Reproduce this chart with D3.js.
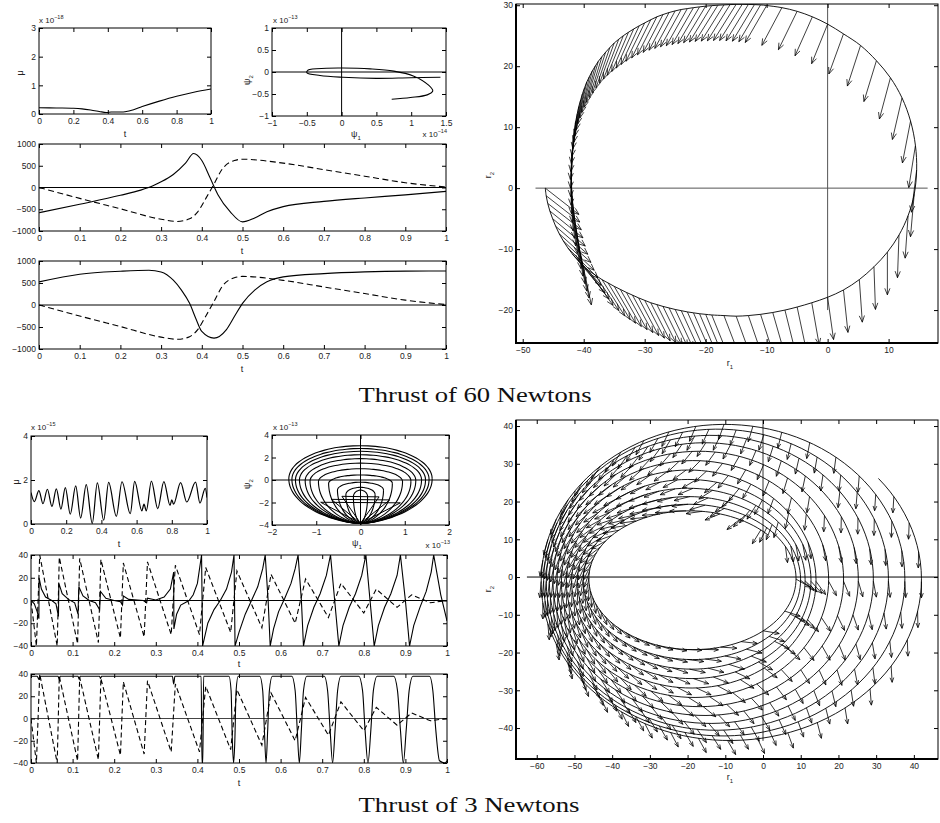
<!DOCTYPE html>
<html>
<head>
<meta charset="utf-8">
<script src="https://cdnjs.cloudflare.com/ajax/libs/d3/7.8.5/d3.min.js"></script>
<style>
  body { margin: 0; background: #fff; }
</style>
</head>
<body>
<script>
// ---------------- data: thrust of 60 Newtons ----------------
const tTicksFine = [0, 0.1, 0.2, 0.3, 0.4, 0.5, 0.6, 0.7, 0.8, 0.9, 1];
const tTicksCoarse = [0, 0.2, 0.4, 0.6, 0.8, 1];

const mu60Ticks = [0, 1, 2, 3];
const mu60 = [[0, 0.22], [0.1, 0.21], [0.2, 0.2], [0.25, 0.18], [0.3, 0.14], [0.35, 0.09], [0.39, 0.05],
  [0.42, 0.07], [0.47, 0.07], [0.5, 0.08], [0.55, 0.15], [0.6, 0.26], [0.7, 0.45], [0.8, 0.62], [0.9, 0.76], [1, 0.87]];

const psi60XTicks = [-1, -0.5, 0, 0.5, 1, 1.5];
const psi60YTicks = [-1, -0.5, 0, 0.5, 1];
const psi60 = [[1.42, -0.12], [0.99, -0.13], [0.5, -0.145], [0.02, -0.12], [-0.31, -0.08], [-0.5, -0.015],
  [-0.48, 0.045], [-0.22, 0.085], [0.02, 0.09], [0.41, 0.07], [0.75, 0.02], [1.03, -0.09], [1.25, -0.3],
  [1.31, -0.43], [1.23, -0.52], [0.99, -0.58], [0.72, -0.62]];

const mid60YTicks = [-1000, -500, 0, 500, 1000];
const solid60a = [[0, -580], [0.1, -385], [0.2, -180], [0.25, -60], [0.28, 40], [0.3, 130], [0.33, 300],
  [0.36, 560], [0.38, 780], [0.4, 620], [0.42, 230], [0.44, -170], [0.47, -560], [0.5, -790], [0.53, -700],
  [0.56, -560], [0.6, -440], [0.7, -320], [0.8, -240], [0.9, -170], [1, -90]];
const solid60b = [[0, 526], [0.1, 700], [0.2, 767], [0.27, 790], [0.3, 752], [0.33, 564], [0.35, 338],
  [0.37, 38], [0.385, -300], [0.4, -600], [0.43, -752], [0.46, -564], [0.48, -263], [0.5, 38], [0.53, 338],
  [0.56, 526], [0.6, 640], [0.7, 714], [0.8, 752], [0.9, 770], [1, 774]];
const dashed60 = [[0, 0], [0.1, -250], [0.2, -490], [0.3, -730], [0.34, -780], [0.37, -720], [0.39, -560],
  [0.41, -250], [0.43, 80], [0.45, 420], [0.48, 620], [0.5, 650], [0.6, 560], [0.7, 410], [0.8, 260],
  [0.9, 110], [1, 10]];

const r1Ticks60 = [-50, -40, -30, -20, -10, 0, 10];
const r2Ticks60 = [-20, -10, 0, 10, 20, 30];
// trajectory samples [r1, r2, thrust direction in degrees]
const orbit60 = [
  [-46.3, 0.0, -38], [-46.15, -1.25, -38], [-45.9, -2.5, -38], [-45.55, -3.75, -39], [-45.1, -5.0, -40],
  [-44.6, -6.25, -41], [-44.0, -7.5, -42], [-43.35, -8.65, -43.5], [-42.6, -9.8, -45], [-41.85, -10.8, -47.5],
  [-41.0, -11.8, -50], [-40.1, -12.65, -52.5], [-39.2, -13.5, -55], [-38.1, -14.25, -56.5],
  [-37.0, -15.0, -58], [-36.0, -15.55, -59], [-35.0, -16.1, -60], [-34.0, -16.6, -60.5], [-33.0, -17.1, -61],
  [-32.0, -17.55, -61.5], [-31.0, -18.0, -62], [-30.0, -18.4, -62.5], [-29.0, -18.8, -63], [-28.0, -19.1, -63.5],
  [-27.0, -19.4, -64], [-26.0, -19.65, -64.5], [-25.0, -19.9, -65], [-24.0, -20.1, -65.5], [-23.0, -20.3, -66],
  [-22.0, -20.45, -66.5], [-21.0, -20.6, -67], [-20.0, -20.7, -67.5], [-19.0, -20.8, -68], [-17.0, -20.9, -69],
  [-15.0, -21.0, -70], [-13.0, -20.9, -71], [-11.0, -20.7, -72], [-9.0, -20.4, -74], [-7.0, -20.0, -76],
  [-5.0, -19.5, -78], [-2.6, -18.8, -80], [0.0, -17.9, -82], [2.6, -16.7, -84], [5.2, -15.0, -86],
  [7.6, -12.9, -88], [9.8, -10.5, -90], [11.7, -7.7, -92], [13.2, -4.5, -94], [14.2, -1.0, -95],
  [14.6, 3.0, -97], [14.4, 7.0, -99], [13.6, 11.0, -101], [12.2, 14.8, -103], [10.3, 18.1, -105],
  [8.0, 20.9, -107], [5.4, 23.4, -108], [2.6, 25.3, -110], [0.0, 26.9, -112], [-2.5, 28.1, -114],
  [-5.0, 29.0, -116], [-7.5, 29.6, -118], [-10.0, 29.95, -120],
  [-11.0, 30.05, -120.5], [-12.0, 30.1, -121], [-13.0, 30.13, -121.5], [-14.0, 30.15, -122], [-15.0, 30.15, -122],
  [-16.0, 30.1, -122], [-17.0, 30.05, -122], [-18.0, 30.0, -122], [-19.0, 29.93, -121.5], [-20.0, 29.85, -121],
  [-21.0, 29.73, -120.5], [-22.0, 29.6, -120], [-23.0, 29.45, -119.5], [-24.0, 29.3, -119], [-25.0, 29.07, -118.5],
  [-26.0, 28.8, -118], [-27.0, 28.47, -117.5], [-28.0, 28.1, -117], [-29.0, 27.62, -116.5], [-30.0, 27.1, -116],
  [-30.9, 26.62, -115], [-31.8, 26.1, -114], [-32.65, 25.57, -113], [-33.5, 25.0, -112], [-34.25, 24.42, -111],
  [-35.0, 23.8, -110], [-35.7, 23.07, -109], [-36.4, 22.3, -108], [-37.0, 21.57, -107], [-37.6, 20.8, -106],
  [-38.1, 20.02, -105], [-38.6, 19.2, -104], [-39.05, 18.32, -103], [-39.5, 17.4, -102], [-39.85, 16.47, -101],
  [-40.2, 15.5, -100], [-40.5, 14.47, -99], [-40.8, 13.4, -98], [-41.05, 12.22, -97], [-41.3, 11.0, -96],
  [-41.5, 9.7, -95], [-41.7, 8.4, -94], [-41.8, 7.0, -93], [-41.9, 5.6, -92], [-41.95, 4.2, -91],
  [-42.0, 2.8, -90], [-42.0, 1.4, -89], [-42.0, 0.0, -88], [-41.9, -1.25, -87], [-41.8, -2.5, -86],
  [-41.65, -3.75, -85], [-41.5, -5.0, -84], [-41.3, -6.25, -83], [-41.1, -7.5, -82], [-40.9, -8.75, -81],
  [-40.7, -10.0, -80], [-40.45, -11.15, -79], [-40.2, -12.3, -78]
];

// ---------------- data: thrust of 3 Newtons ----------------
const mu3Ticks = [0, 2, 4];
const mu3 = [[0, 1.43], [0.019, 1.02], [0.045, 1.52], [0.068, 0.92], [0.093, 1.58], [0.119, 0.8],
  [0.144, 1.6], [0.17, 0.68], [0.195, 1.65], [0.223, 0.45], [0.254, 1.73], [0.282, 0.27], [0.314, 1.79],
  [0.348, 0.02], [0.377, 1.87], [0.413, 0.17], [0.441, 1.89], [0.485, 0.35], [0.517, 1.92], [0.564, 0.47],
  [0.589, 1.94], [0.63, 0.6], [0.642, 0.9], [0.655, 0.6], [0.684, 1.95], [0.72, 0.7], [0.755, 1.93],
  [0.79, 0.85], [0.8, 1.1], [0.81, 0.9], [0.85, 1.88], [0.885, 1.0], [0.935, 1.9], [0.96, 0.95],
  [0.99, 1.62], [1, 1.2]];

const psi3XTicks = [-2, -1, 0, 1, 2];
const psi3YTicks = [-4, -2, 0, 2, 4];
const psi3Bottom = -3.85;
const psi3HalfWidth = [1.62, 1.55, 1.47, 1.38, 1.25, 1.14, 0.95, 0.72, 0.52, 0.33, 0.16];
const psi3Top = [3.05, 2.8, 2.55, 2.25, 1.9, 1.5, 1.0, 0.45, -0.2, -0.65, -0.9];
const psi3Widest = [0.1, 0.05, 0, 0, -0.05, -0.1, -0.15, -0.3, -0.9, -1.3, -1.5];
const psi3Wings = [[0.9, -1.98], [0.66, -1.72], [0.42, -1.45]];

const mid3YTicks = [-40, -20, 0, 20, 40];
const dashed3 = [[0, 0], [0.013, -40], [0.021, 40], [0.063, -40], [0.068, 38], [0.112, -38], [0.117, 37],
  [0.162, -37], [0.168, 36], [0.215, -33], [0.222, 33], [0.272, -32], [0.28, 34], [0.337, -30], [0.347, 31],
  [0.405, -30], [0.42, 29], [0.48, -28], [0.495, 26], [0.555, -24], [0.577, 23], [0.635, -20], [0.66, 19],
  [0.715, -15], [0.745, 15], [0.8, -11], [0.83, 10], [0.88, -6], [0.915, 5], [0.96, -2], [1, 0]];
const solid3a = [[0, 0], [0.008, -3], [0.015, -10], [0.019, -16], [0.0195, 20], [0.025, 10], [0.035, 3],
  [0.05, 0], [0.06, -3], [0.066, -14], [0.067, 15], [0.075, 6], [0.09, 1], [0.105, -2], [0.113, -12],
  [0.115, 12], [0.125, 4], [0.14, 0], [0.155, -2], [0.165, -8], [0.167, 8], [0.18, 2], [0.2, 0],
  [0.215, -1], [0.22, -4], [0.222, 4], [0.235, 1], [0.27, 0], [0.278, -2], [0.28, 2], [0.3, 0.5],
  [0.32, 3], [0.335, 10], [0.343, 25], [0.3435, -25], [0.35, -12], [0.36, -4], [0.38, 0], [0.39, 5],
  [0.4, 15], [0.41, 40], [0.4125, -40], [0.425, -20], [0.44, -8], [0.455, 0], [0.47, 10], [0.482, 25],
  [0.488, 40], [0.4905, -40], [0.5, -28], [0.515, -12], [0.53, 0], [0.545, 12], [0.557, 28], [0.563, 40],
  [0.57, 0], [0.575, -40], [0.583, -25], [0.595, -10], [0.61, 2], [0.625, 15], [0.635, 28], [0.642, 40],
  [0.65, 0], [0.655, -40], [0.665, -22], [0.68, -6], [0.695, 6], [0.71, 22], [0.72, 40], [0.73, 0],
  [0.74, -40], [0.75, -22], [0.765, -6], [0.78, 6], [0.795, 22], [0.805, 40], [0.815, 0], [0.825, -40],
  [0.835, -22], [0.85, -6], [0.865, 6], [0.88, 22], [0.888, 40], [0.9, 0], [0.91, -40], [0.92, -22],
  [0.935, -6], [0.95, 8], [0.962, 25], [0.968, 40], [0.985, 5], [1, -18]];
const solid3b = [[0, 38], [0.015, 38], [0.019, 35], [0.021, 38], [0.065, 38], [0.068, 35], [0.07, 38],
  [0.113, 38], [0.116, 35], [0.118, 38], [0.165, 38], [0.167, 36], [0.17, 38], [0.34, 38], [0.343, 31],
  [0.346, 38], [0.409, 38], [0.411, -40], [0.413, -40], [0.415, 38], [0.476, 38], [0.481, 25],
  [0.484, -20], [0.487, -40], [0.49, -20], [0.493, 25], [0.498, 38], [0.55, 38], [0.557, 25], [0.561, -10],
  [0.565, -40], [0.569, -10], [0.573, 25], [0.58, 38], [0.627, 38], [0.635, 25], [0.64, -10], [0.645, -40],
  [0.65, -10], [0.655, 25], [0.663, 38], [0.705, 38], [0.713, 25], [0.719, -10], [0.725, -40],
  [0.731, -10], [0.737, 25], [0.745, 38], [0.788, 38], [0.797, 25], [0.803, -10], [0.81, -40],
  [0.817, -10], [0.823, 25], [0.832, 38], [0.872, 38], [0.881, 25], [0.888, -10], [0.895, -40],
  [0.902, -10], [0.909, 25], [0.918, 38], [0.958, 38], [0.966, 25], [0.973, -10], [0.982, -38],
  [0.995, -40], [1, -38]];

const r1Ticks3 = [-60, -50, -40, -30, -20, -10, 0, 10, 20, 30, 40];
const r2Ticks3 = [-40, -30, -20, -10, 0, 10, 20, 30, 40];
// extremes of successive revolutions, first (outer) to last (inner)
const loopRight3 = [42.5, 38.1, 33.7, 29.7, 25.7, 21.8, 17.8, 14.2, 12.9, 11.3, 10.1, 8.9, 7.6];
const loopLeft3 = [-59.2, -58.6, -57.9, -57.2, -56.3, -55.3, -54.2, -53.0, -51.6, -50.2, -48.6, -47.1, -45.6];
const loopTop3 = [41.3, 40.3, 39.0, 37.3, 35.3, 33.0, 30.5, 28.0, 25.5, 23.2, 21.0, 19.0, 17.3];
const loopBottom3 = [-43.7, -42.6, -41.2, -39.5, -37.5, -35.2, -32.8, -30.3, -27.8, -25.3, -22.8, -20.2, -17.5];
// thrust direction (deg) seen at orbit positions 0,45,...,315 deg, for outer and inner revolutions
const thrustOuter3 = [-90, -95, -110, -125, -95, -65, -60, -85];
const thrustInner3 = [-30, -120, -180, -170, -100, -40, 0, -10];
const innerShare3 = [0, 0.05, 0.1, 0.18, 0.27, 0.37, 0.48, 0.6, 0.7, 0.8, 0.9, 1];

// ---------------- drawing ----------------
const W = 940, H = 823;
const SANS = "Liberation Sans, Arial, Helvetica, sans-serif";
const SERIF = "Liberation Serif, Times New Roman, serif";
const svg = d3.select("body").append("svg").attr("width", W).attr("height", H);
const fmt = d3.format("");
let clipCount = 0;

function panel(b, xd, yd, xt, yt, thick) {
  const x = d3.scaleLinear().domain(xd).range([b.x, b.x + b.w]);
  const y = d3.scaleLinear().domain(yd).range([b.y + b.h, b.y]);
  const id = "clip" + (clipCount++);
  svg.append("clipPath").attr("id", id).append("rect")
    .attr("x", b.x).attr("y", b.y).attr("width", b.w).attr("height", b.h);
  const g = svg.append("g").attr("clip-path", `url(#${id})`);
  const ax = svg.append("g");
  ax.append("g").attr("transform", `translate(0,${b.y + b.h})`)
    .call(d3.axisBottom(x).tickValues(xt).tickSize(-4).tickPadding(4).tickFormat(fmt));
  ax.append("g").attr("transform", `translate(0,${b.y})`)
    .call(d3.axisTop(x).tickValues(xt).tickSize(-4).tickFormat(""));
  ax.append("g").attr("transform", `translate(${b.x},0)`)
    .call(d3.axisLeft(y).tickValues(yt).tickSize(-4).tickPadding(3).tickFormat(fmt));
  ax.append("g").attr("transform", `translate(${b.x + b.w},0)`)
    .call(d3.axisRight(y).tickValues(yt).tickSize(-4).tickFormat(""));
  ax.selectAll(".domain").remove();
  ax.selectAll("g").attr("font-size", 8.5).attr("font-family", SANS);
  ax.selectAll("text").attr("fill", "#222");
  ax.selectAll("line").attr("stroke", "#000");
  ax.append("rect").attr("x", b.x).attr("y", b.y).attr("width", b.w).attr("height", b.h)
    .attr("fill", "none").attr("stroke", "#000").attr("stroke-width", 1);
  if (thick) {
    ax.append("path")
      .attr("d", `M${b.x},${b.y} V${b.y + b.h} H${b.x + b.w}`)
      .attr("fill", "none").attr("stroke", "#000").attr("stroke-width", 2);
  }
  return { x, y, g, b };
}

function label(txt, x, y, opt) {
  opt = opt || {};
  const t = svg.append("text").attr("x", x).attr("y", y)
    .attr("font-family", SANS).attr("font-size", opt.size || 9).attr("fill", "#222")
    .attr("text-anchor", opt.anchor || "middle");
  if (opt.rotate) t.attr("transform", `rotate(-90,${x},${y})`);
  t.append("tspan").text(txt);
  if (opt.sub) t.append("tspan").attr("font-size", 6).attr("dy", 2.5).text(opt.sub);
  return t;
}

function expLabel(x, y, exp, anchor) {
  const t = svg.append("text").attr("x", x).attr("y", y).attr("font-size", 8)
    .attr("font-family", SANS).attr("fill", "#222").attr("text-anchor", anchor || "start");
  t.append("tspan").text("x 10");
  t.append("tspan").attr("font-size", 5.5).attr("dy", -4).text(exp);
}

function curve(p, data, style) {
  const line = d3.line().x(d => p.x(d[0])).y(d => p.y(d[1])).curve(style.curve || d3.curveMonotoneX);
  p.g.append("path").attr("d", line(data)).attr("fill", "none")
    .attr("stroke", "#000").attr("stroke-width", style.width || 1.1)
    .attr("stroke-dasharray", style.dash || null);
}

function hLine(p, v, x0, x1, col) {
  p.g.append("line").attr("x1", p.x(x0)).attr("x2", p.x(x1)).attr("y1", p.y(v)).attr("y2", p.y(v))
    .attr("stroke", col || "#000").attr("stroke-width", 1);
}
function vLine(p, v, y0, y1, col) {
  p.g.append("line").attr("y1", p.y(y0)).attr("y2", p.y(y1)).attr("x1", p.x(v)).attr("x2", p.x(v))
    .attr("stroke", col || "#000").attr("stroke-width", 1);
}

function arrow(p, r1, r2, angDeg, len, head) {
  const a = angDeg * Math.PI / 180;
  const x0 = p.x(r1), y0 = p.y(r2);
  const x1 = p.x(r1 + len * Math.cos(a)), y1 = p.y(r2 + len * Math.sin(a));
  const sa = Math.atan2(y1 - y0, x1 - x0), w = 0.38;
  const hx1 = x1 - head * Math.cos(sa - w), hy1 = y1 - head * Math.sin(sa - w);
  const hx2 = x1 - head * Math.cos(sa + w), hy2 = y1 - head * Math.sin(sa + w);
  return `M${x0},${y0}L${x1},${y1}M${hx1},${hy1}L${x1},${y1}L${hx2},${hy2}`;
}

function title(txt, x, y, len) {
  svg.append("text").attr("x", x).attr("y", y).attr("text-anchor", "middle")
    .attr("font-family", SERIF).attr("font-size", 22).attr("fill", "#111")
    .attr("textLength", len).attr("lengthAdjust", "spacingAndGlyphs").text(txt);
}

// ======== Thrust of 60 Newtons ========
const pMu60 = panel({ x: 39, y: 28, w: 172, h: 86 }, [0, 1], [0, 3], tTicksCoarse, mu60Ticks);
curve(pMu60, mu60, { curve: d3.curveCatmullRom });
expLabel(39, 23, "\u221218");
label("\u03bc", 23, 73, { rotate: true });
label("t", 125, 137);

const pPsi60 = panel({ x: 272, y: 28, w: 174, h: 88 }, [-1, 1.5], [-1, 1], psi60XTicks, psi60YTicks);
hLine(pPsi60, 0, -1, 1.5);
vLine(pPsi60, 0, -1, 1);
curve(pPsi60, psi60, { curve: d3.curveCatmullRom });
expLabel(273, 23, "\u221213");
expLabel(447, 137, "\u221214", "end");
label("\u03c8", 250, 80, { rotate: true, sub: "2" });
label("\u03c8", 356, 137, { sub: "1" });

const pMid60a = panel({ x: 39, y: 144, w: 407, h: 87 }, [0, 1], [-1000, 1000], tTicksFine, mid60YTicks);
hLine(pMid60a, 0, 0, 1);
curve(pMid60a, solid60a, {});
curve(pMid60a, dashed60, { dash: "6,3.5" });
label("t", 242, 254);

const pMid60b = panel({ x: 39, y: 261, w: 407, h: 88 }, [0, 1], [-1000, 1000], tTicksFine, mid60YTicks);
hLine(pMid60b, 0, 0, 1);
curve(pMid60b, solid60b, {});
curve(pMid60b, dashed60, { dash: "6,3.5" });
label("t", 242, 372);

const pOrb60 = panel({ x: 516, y: 4, w: 422, h: 339 }, [-51.1, 18.1], [-25.4, 30.2], r1Ticks60, r2Ticks60, true);
hLine(pOrb60, 0, -47.9, 16.4, "#555");
vLine(pOrb60, 0, -20, 30.2, "#555");
curve(pOrb60, orbit60, { curve: d3.curveCatmullRom, width: 0.9 });
pOrb60.g.append("path")
  .attr("d", orbit60.map(d => arrow(pOrb60, d[0], d[1], d[2], 7, 7)).join(""))
  .attr("fill", "none").attr("stroke", "#000").attr("stroke-width", 0.75);
label("r", 491, 175, { rotate: true, sub: "2" });
label("r", 730, 366, { sub: "1" });

title("Thrust of 60 Newtons", 475, 402, 233);

// ======== Thrust of 3 Newtons ========
const pMu3 = panel({ x: 31, y: 436, w: 176, h: 88 }, [0, 1], [0, 4], tTicksCoarse, mu3Ticks);
curve(pMu3, mu3, { width: 1.2 });
expLabel(31, 430, "\u221215");
label("\u03bc", 19, 482, { rotate: true });
label("t", 119, 547);

const pPsi3 = panel({ x: 272, y: 435, w: 177, h: 90 }, [-2, 2], [-4, 4], psi3XTicks, psi3YTicks);
hLine(pPsi3, 0, -2, 2);
vLine(pPsi3, 0, -4, 4);
const eggLine = d3.line().x(d => pPsi3.x(d[0])).y(d => pPsi3.y(d[1])).curve(d3.curveCatmullRom);
psi3HalfWidth.forEach((w, i) => {
  const top = psi3Top[i], mid = psi3Widest[i], pts = [];
  for (let a = 0; a <= 360; a += 6) {
    const r = a * Math.PI / 180;
    const s = Math.sin(r), c = Math.cos(r);
    if (s >= 0) pts.push([w * c, mid + (top - mid) * s]);
    else pts.push([w * Math.sign(c) * Math.pow(1 - s * s, 0.6), mid + (mid - psi3Bottom) * s]);
  }
  pPsi3.g.append("path").attr("d", eggLine(pts)).attr("fill", "none")
    .attr("stroke", "#000").attr("stroke-width", 1.1);
});
psi3Wings.forEach(d => {
  const [w, yv] = d;
  pPsi3.g.append("path")
    .attr("d", `M${pPsi3.x(0)},${pPsi3.y(psi3Bottom)}L${pPsi3.x(-w)},${pPsi3.y(yv)}L${pPsi3.x(w)},${pPsi3.y(yv - 0.05)}Z`)
    .attr("fill", "none").attr("stroke", "#000").attr("stroke-width", 1);
});
expLabel(273, 430, "\u221213");
expLabel(450, 548, "\u221213", "end");
label("\u03c8", 250, 484, { rotate: true, sub: "2" });
label("\u03c8", 357, 546, { sub: "1" });

const pMid3a = panel({ x: 31, y: 555, w: 416, h: 91 }, [0, 1], [-40, 40], tTicksFine, mid3YTicks);
hLine(pMid3a, 0, 0, 1);
curve(pMid3a, solid3a, { curve: d3.curveLinear });
curve(pMid3a, dashed3, { dash: "5,3", curve: d3.curveLinear });
label("t", 239, 667);

const pMid3b = panel({ x: 31, y: 674, w: 416, h: 89 }, [0, 1], [-40, 40], tTicksFine, mid3YTicks);
hLine(pMid3b, 0, 0, 1, "#444");
curve(pMid3b, solid3b, { curve: d3.curveMonotoneX });
curve(pMid3b, dashed3, { dash: "5,3", curve: d3.curveLinear });
label("t", 239, 786);

const pOrb3 = panel({ x: 516, y: 420, w: 422, h: 339 }, [-65.5, 46.4], [-48.2, 41.6], r1Ticks3, r2Ticks3, true);
hLine(pOrb3, 0, -62.6, 46.4);
vLine(pOrb3, 0, -43.4, 41.6, "#333");

function loopAt(k, f) {
  const j = Math.min(k + 1, loopRight3.length - 1);
  const R = loopRight3[k] + (loopRight3[j] - loopRight3[k]) * f;
  const L = loopLeft3[k] + (loopLeft3[j] - loopLeft3[k]) * f;
  const T = loopTop3[k] + (loopTop3[j] - loopTop3[k]) * f;
  const B = loopBottom3[k] + (loopBottom3[j] - loopBottom3[k]) * f;
  return { cx: (R + L) / 2, a: (R - L) / 2, cy: (T + B) / 2, b: (T - B) / 2 };
}
const startAngle3 = 40;
const spiral = [];
for (let k = 0; k < loopRight3.length - 1; k++) {
  for (let d = 0; d < 360; d += 3) {
    const p = loopAt(k, d / 360), th = (startAngle3 - d) * Math.PI / 180;
    spiral.push([p.cx + p.a * Math.cos(th), p.cy + p.b * Math.sin(th)]);
  }
}
const pl = loopAt(loopRight3.length - 1, 0), thl = startAngle3 * Math.PI / 180;
spiral.push([pl.cx + pl.a * Math.cos(thl), pl.cy + pl.b * Math.sin(thl)]);
curve(pOrb3, spiral, { curve: d3.curveLinear, width: 0.9 });

function angleMix(a, b, f) {
  let d = b - a;
  while (d > 180) d -= 360;
  while (d < -180) d += 360;
  return a + d * f;
}
function tableAngle(tbl, phi) {
  const p = ((phi % 360) + 360) % 360, i = Math.floor(p / 45);
  return angleMix(tbl[i % 8], tbl[(i + 1) % 8], (p - i * 45) / 45);
}
const arrows3 = [];
const perLoop = 40;
for (let k = 0; k < loopRight3.length - 1; k++) {
  const p0 = loopAt(k, 0);
  const e = Math.min(0.8, Math.max(0, -p0.cx / p0.a));
  for (let i = 0; i < perLoop; i++) {
    const M = 2 * Math.PI * i / perLoop;
    let E = M;
    for (let n = 0; n < 8; n++) E -= (E - e * Math.sin(E) - M) / (1 - e * Math.cos(E));
    const thDeg = -E * 180 / Math.PI;
    const f = (((startAngle3 - thDeg) % 360) + 360) % 360 / 360;
    const p = loopAt(k, f), th = thDeg * Math.PI / 180;
    const r1 = p.cx + p.a * Math.cos(th), r2 = p.cy + p.b * Math.sin(th);
    const ang = angleMix(tableAngle(thrustOuter3, thDeg), tableAngle(thrustInner3, thDeg), innerShare3[k]);
    arrows3.push([r1, r2, ang]);
  }
}
pOrb3.g.append("path")
  .attr("d", arrows3.map(d => arrow(pOrb3, d[0], d[1], d[2], 4.3, 5)).join(""))
  .attr("fill", "none").attr("stroke", "#000").attr("stroke-width", 0.8);
label("r", 491, 589, { rotate: true, sub: "2" });
label("r", 730, 780, { sub: "1" });

title("Thrust of 3 Newtons", 469, 812, 221);
</script>
</body>
</html>
